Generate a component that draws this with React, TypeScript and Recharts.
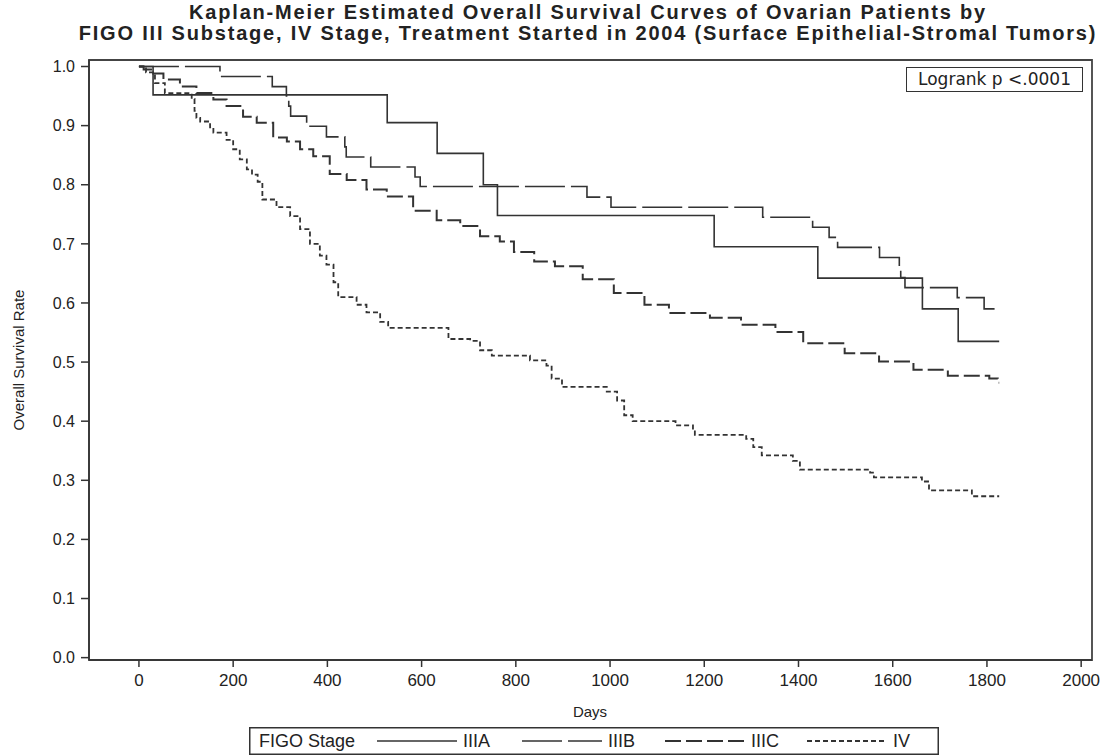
import { LineChart, Line, XAxis, YAxis, ReferenceArea, Label } from 'recharts'

// Kaplan-Meier steps (day the level starts, survival rate)
const daysIIIA = [0, 30, 527, 633, 731, 761, 1221, 1441, 1663, 1739, 1826]
const survIIIA = [1.0, 0.952, 0.905, 0.853, 0.8, 0.748, 0.695, 0.642, 0.59, 0.535, 0.535]

const daysIIIB = [0, 172, 283, 313, 318, 322, 356, 398, 437, 440, 492, 586, 597, 951, 1002, 1324, 1430, 1465, 1483, 1572, 1614, 1617, 1626, 1737, 1794, 1826]
const survIIIB = [1.0, 0.983, 0.966, 0.95, 0.933, 0.916, 0.899, 0.881, 0.864, 0.847, 0.83, 0.813, 0.797, 0.779, 0.762, 0.745, 0.728, 0.711, 0.694, 0.677, 0.66, 0.643, 0.626, 0.609, 0.59, 0.59]

const daysIIIC = [0, 10, 30, 52, 87, 122, 158, 186, 221, 250, 285, 314, 342, 370, 405, 441, 483, 526, 582, 632, 682, 724, 766, 796, 839, 883, 942, 1008, 1073, 1125, 1212, 1278, 1351, 1410, 1498, 1571, 1644, 1717, 1805, 1823, 1826]
const survIIIC = [1.0, 0.995, 0.988, 0.978, 0.966, 0.955, 0.944, 0.933, 0.915, 0.905, 0.88, 0.873, 0.86, 0.848, 0.818, 0.808, 0.792, 0.78, 0.756, 0.74, 0.73, 0.713, 0.704, 0.686, 0.67, 0.662, 0.64, 0.617, 0.597, 0.583, 0.575, 0.563, 0.551, 0.532, 0.515, 0.501, 0.487, 0.477, 0.472, 0.465, 0.465]

const daysIV = [0, 15, 34, 55, 112, 118, 122, 130, 151, 158, 186, 200, 214, 229, 240, 252, 262, 292, 321, 342, 363, 384, 398, 413, 423, 462, 483, 512, 529, 646, 657, 703, 724, 749, 830, 865, 876, 898, 993, 1015, 1030, 1048, 1139, 1176, 1180, 1289, 1304, 1322, 1388, 1403, 1552, 1560, 1662, 1677, 1768, 1826]
const survIV = [1.0, 0.99, 0.972, 0.955, 0.945, 0.925, 0.913, 0.907, 0.897, 0.888, 0.876, 0.86, 0.843, 0.826, 0.817, 0.805, 0.775, 0.762, 0.747, 0.725, 0.7, 0.68, 0.665, 0.635, 0.61, 0.597, 0.584, 0.568, 0.558, 0.558, 0.539, 0.536, 0.52, 0.511, 0.503, 0.494, 0.472, 0.458, 0.45, 0.435, 0.41, 0.4, 0.393, 0.385, 0.377, 0.37, 0.356, 0.342, 0.333, 0.318, 0.313, 0.305, 0.298, 0.283, 0.273, 0.273]

const xTicks = [0, 200, 400, 600, 800, 1000, 1200, 1400, 1600, 1800, 2000]
const yTicks = [0, 0.1, 0.2, 0.3, 0.4, 0.5, 0.6, 0.7, 0.8, 0.9, 1.0]

const titleLines = [
  'Kaplan-Meier Estimated Overall Survival Curves of Ovarian Patients by',
  'FIGO III Substage, IV Stage, Treatment Started in 2004 (Surface Epithelial-Stromal Tumors)',
]

const toRows = (days: number[], surv: number[]) => days.map((d, i) => ({ day: d, rate: surv[i] }))

const ink = '#333'
const styles = [
  { name: 'IIIA', dash: undefined, width: 1.6 },
  { name: 'IIIB', dash: '40 6', width: 1.6 },
  { name: 'IIIC', dash: '16 5', width: 2 },
  { name: 'IV', dash: '5 3', width: 1.8 },
]
const series = [
  toRows(daysIIIA, survIIIA),
  toRows(daysIIIB, survIIIB),
  toRows(daysIIIC, survIIIC),
  toRows(daysIV, survIV),
]

const X_DOMAIN: [number, number] = [-106, 2023]
const Y_DOMAIN: [number, number] = [-0.004, 1.011]

export default function App() {
  const sans = '"Liberation Sans", Arial, sans-serif'

  return (
    <div style={{ position: 'absolute', left: 0, top: 0, width: 1114, height: 755, background: '#fff', fontFamily: sans }}>
      {/* title */}
      {titleLines.map((t, i) => (
        <div
          key={i}
          style={{
            position: 'absolute',
            left: 588 - 600,
            width: 1200,
            top: 2 + i * 21,
            textAlign: 'center',
            fontSize: 20,
            fontWeight: 'bold',
            letterSpacing: 1.8,
            color: '#222',
            lineHeight: '21px',
            whiteSpace: 'nowrap',
          }}
        >
          {t}
        </div>
      ))}

      <LineChart width={1114} height={755} margin={{ top: 60, right: 22, left: 0, bottom: 0 }}>
        <XAxis
          dataKey="day"
          type="number"
          domain={X_DOMAIN}
          ticks={xTicks}
          allowDataOverflow
          height={95}
          tickSize={7}
          tickMargin={7}
          stroke={ink}
          strokeWidth={1.5}
          tick={{ fill: '#222', fontSize: 17, fontFamily: sans }}
        >
          <Label
            content={() => (
              <text x={590} y={717} textAnchor="middle" fill="#222" fontSize={15} fontFamily={sans}>
                Days
              </text>
            )}
          />
        </XAxis>
        <YAxis
          type="number"
          domain={Y_DOMAIN}
          ticks={yTicks}
          allowDataOverflow
          width={89}
          tickSize={8}
          tickMargin={6}
          stroke={ink}
          strokeWidth={1.5}
          tickFormatter={(v: number) => v.toFixed(1)}
          tick={{ fill: '#222', fontSize: 16, fontFamily: sans }}
        >
          <Label
            content={() => (
              <text x={24} y={360} transform="rotate(-90 24 360)" textAnchor="middle" fill="#222" fontSize={15} fontFamily={sans}>
                Overall Survival Rate
              </text>
            )}
          />
        </YAxis>
        <ReferenceArea x1={X_DOMAIN[0]} x2={X_DOMAIN[1]} y1={Y_DOMAIN[0]} y2={Y_DOMAIN[1]} fill="none" stroke="#444" strokeWidth={1.8} />
        {series.map((rows, i) => (
          <Line
            key={styles[i].name}
            data={rows}
            dataKey="rate"
            name={styles[i].name}
            type="stepAfter"
            stroke={ink}
            strokeWidth={styles[i].width}
            strokeDasharray={styles[i].dash}
            dot={false}
            activeDot={false}
            isAnimationActive={false}
          />
        ))}
      </LineChart>

      {/* logrank box */}
      <div
        style={{
          position: 'absolute',
          left: 906,
          top: 67,
          width: 175,
          height: 23,
          border: '1.5px solid #333',
          fontFamily: '"DejaVu Sans", sans-serif',
          fontSize: 17,
          lineHeight: '23px',
          color: '#222',
          textAlign: 'center',
        }}
      >
        Logrank p &lt;.0001
      </div>

      {/* legend */}
      <svg style={{ position: 'absolute', left: 249, top: 727 }} width={690} height={28}>
        <rect x={0.75} y={0.75} width={688.5} height={26.5} fill="none" stroke="#333" strokeWidth={1.5} />
        <text x={10} y={20} fontSize={18} fontFamily={sans} fill="#222">FIGO Stage</text>
        {styles.map((s, i) => {
          const x0 = [128, 273, 416, 558][i]
          return (
            <g key={s.name}>
              <line x1={x0} x2={x0 + 80} y1={14} y2={14} stroke={ink} strokeWidth={s.width} strokeDasharray={s.dash} />
              <text x={x0 + 86} y={20} fontSize={18} fontFamily={sans} fill="#222">{s.name}</text>
            </g>
          )
        })}
      </svg>
    </div>
  )
}
